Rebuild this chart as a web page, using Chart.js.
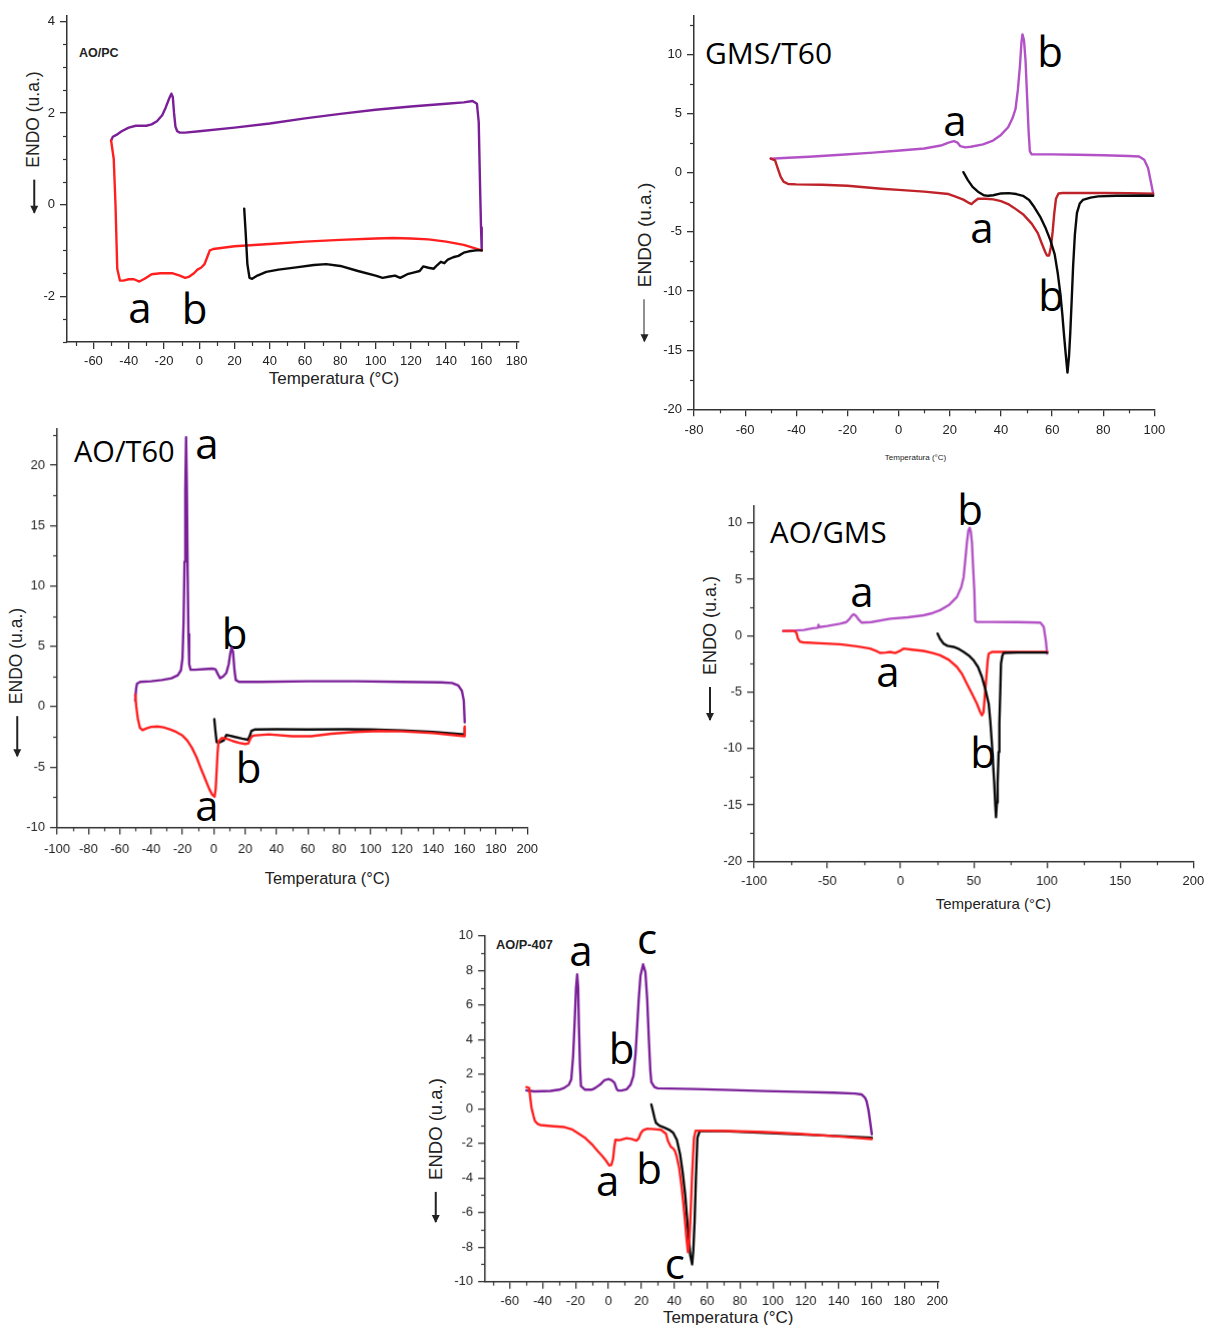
<!DOCTYPE html>
<html><head><meta charset="utf-8">
<script src="https://cdn.jsdelivr.net/npm/chart.js@4.4.1/dist/chart.umd.min.js"></script>
<style>
html,body{margin:0;padding:0;background:#fff;}
body{width:1205px;height:1325px;position:relative;overflow:hidden;font-family:'Liberation Sans',Arial,sans-serif;}
.cv{position:absolute;}
.t{position:absolute;white-space:nowrap;line-height:1;color:#111;}
.c{transform:translate(-50%,-50%);}
.l{transform:translate(0,-50%);}
.big{font-family:'Open Sans','Noto Sans',sans-serif;color:#000;}
.let{font-family:'Open Sans','Noto Sans',sans-serif;color:#000;font-size:42px;}
.bold{font-weight:bold;color:#222;}
.yt{position:absolute;display:flex;align-items:center;white-space:nowrap;line-height:1;color:#222;transform:translate(-50%,-50%) rotate(-90deg);}
.arr{display:inline-block;height:1.6px;background:#222;position:relative;margin-right:12px;}
.arr::before{content:'';position:absolute;left:-1px;top:-3.2px;border-right:8px solid #222;border-top:4px solid transparent;border-bottom:4px solid transparent;}
</style></head><body>

<!-- panel titles -->
<div class="t l bold" style="left:79px;top:52.7px;font-size:12.5px;">AO/PC</div>
<div class="t l big" style="left:705px;top:53px;font-size:30px;">GMS/T60</div>
<div class="t l big" style="left:74px;top:450px;font-size:29px;">AO/T60</div>
<div class="t l big" style="left:770px;top:532px;font-size:29.5px;">AO/GMS</div>
<div class="t l bold" style="left:496px;top:945px;font-size:12.8px;">AO/P-407</div>

<!-- x axis titles -->
<div class="t c" style="left:334px;top:378.3px;font-size:17px;color:#222;">Temperatura (°C)</div>
<div class="t c" style="left:915.5px;top:458.3px;font-size:8px;color:#222;">Temperatura (°C)</div>
<div class="t c" style="left:327.4px;top:878.3px;font-size:16.3px;color:#222;">Temperatura (°C)</div>
<div class="t c" style="left:993.3px;top:903.3px;font-size:15px;color:#222;">Temperatura (°C)</div>
<div class="t c" style="left:728.2px;top:1316.7px;font-size:17px;color:#222;">Temperatura (°C)</div>

<!-- y axis titles -->
<div class="yt" style="left:34.4px;top:141.7px;font-size:17.5px;"><span class="arr" style="width:33px"></span><span>ENDO (u.a.)</span></div>
<div class="yt" style="left:644.3px;top:261.7px;font-size:19px;"><span class="arr" style="width:42px"></span><span>ENDO (u.a.)</span></div>
<div class="yt" style="left:17.4px;top:682px;font-size:17.5px;"><span class="arr" style="width:40px"></span><span>ENDO (u.a.)</span></div>
<div class="yt" style="left:710px;top:648.3px;font-size:18px;"><span class="arr" style="width:33px"></span><span>ENDO (u.a.)</span></div>
<div class="yt" style="left:435.5px;top:1150px;font-size:18.5px;"><span class="arr" style="width:30px"></span><span>ENDO (u.a.)</span></div>

<!-- peak letters -->
<div class="t c let" style="left:140px;top:306.5px;">a</div>
<div class="t c let" style="left:194.5px;top:307.5px;">b</div>

<div class="t c let" style="left:955px;top:120px;">a</div>
<div class="t c let" style="left:1050px;top:51px;">b</div>
<div class="t c let" style="left:982px;top:226.7px;">a</div>
<div class="t c let" style="left:1051px;top:295px;">b</div>

<div class="t c let" style="left:207px;top:442.5px;">a</div>
<div class="t c let" style="left:234.5px;top:633px;">b</div>
<div class="t c let" style="left:248.5px;top:767px;">b</div>
<div class="t c let" style="left:207px;top:805px;">a</div>

<div class="t c let" style="left:970px;top:509px;">b</div>
<div class="t c let" style="left:862px;top:591px;">a</div>
<div class="t c let" style="left:888px;top:671px;">a</div>
<div class="t c let" style="left:983px;top:752px;">b</div>

<div class="t c let" style="left:581px;top:950px;">a</div>
<div class="t c let" style="left:647px;top:937.5px;">c</div>
<div class="t c let" style="left:621.5px;top:1048px;">b</div>
<div class="t c let" style="left:649px;top:1168px;">b</div>
<div class="t c let" style="left:607.7px;top:1180px;">a</div>
<div class="t c let" style="left:674.8px;top:1262.5px;">c</div>

<script>
// ---------------- AO/PC ----------------
const pcHeatX = [-50,-49,-47,-44,-40,-36,-30,-27,-24,-21,-19,-17,-15.8,-15,-14.3,-13.5,-12.5,-11,-8,0,20,40,60,80,100,120,140,150,155,157.5,158.5,159.2,159.8,160.2];
const pcHeatY = [1.40,1.48,1.52,1.60,1.68,1.72,1.72,1.75,1.82,1.95,2.12,2.32,2.42,2.35,2.00,1.70,1.60,1.57,1.57,1.60,1.68,1.77,1.88,1.98,2.07,2.14,2.20,2.23,2.26,2.20,1.80,0.50,-0.50,-1.00];
const pcCoolX = [160.2,150,140,130,120,110,100,80,60,40,20,8,6,4.5,3,1,-1,-3,-6,-8,-11,-15,-22,-27,-31,-34,-37,-40,-43,-45,-46.5,-47.5,-48.5,-50];
const pcCoolY = [-1.00,-0.88,-0.81,-0.76,-0.74,-0.73,-0.74,-0.77,-0.81,-0.86,-0.91,-0.97,-1.00,-1.15,-1.30,-1.38,-1.42,-1.50,-1.58,-1.60,-1.55,-1.50,-1.50,-1.52,-1.62,-1.68,-1.63,-1.63,-1.66,-1.66,-1.40,0.00,1.00,1.40];
const pcFirstX = [25.5,26.3,27.3,28.5,30,33,38,45,55,65,72,80,90,100,104,108,111,114,118,122,125,127,130,133,135,137,139,141,144,147,150,153,157,160.2];
const pcFirstY = [-0.09,-0.60,-1.30,-1.60,-1.62,-1.55,-1.47,-1.42,-1.37,-1.32,-1.30,-1.34,-1.45,-1.55,-1.60,-1.57,-1.55,-1.60,-1.52,-1.48,-1.45,-1.35,-1.38,-1.40,-1.32,-1.25,-1.28,-1.20,-1.15,-1.12,-1.05,-1.02,-1.00,-1.00];
const pcXTicks = [-60,-40,-20,0,20,40,60,80,100,120,140,160,180];
const pcYTicks = [-2,0,2,4];

// ---------------- GMS/T60 ----------------
const gtHeatX = [-50,-45,-35,-21,-10,0.5,10,16.5,19.5,21.6,23,24.1,26,28.2,33,36.9,40,42.8,44.5,45.7,46.6,47.4,48,48.4,49,49.6,50.2,50.8,51.3,52,60,70,80,90,94,96,97.5,98.8,99.6];
const gtHeatY = [1.18,1.25,1.35,1.54,1.70,1.88,2.05,2.30,2.55,2.67,2.55,2.25,2.15,2.20,2.40,2.72,3.20,3.85,4.60,5.40,7.00,9.00,11.00,11.70,11.20,9.50,6.50,3.50,1.80,1.55,1.55,1.52,1.48,1.42,1.38,1.10,0.40,-1.00,-1.90];
const gtCoolX = [99.6,90,80,70,64,62.5,61.5,60.8,60.2,59.5,58.8,58,57.3,56,54.4,52,48.6,45,42.8,40,37,34,31,29.5,28.5,27.5,25.3,22,19.5,10,0,-6.7,-20,-30,-40,-43.2,-45,-46.1,-47.3,-48.3,-50];
const gtCoolY = [-1.77,-1.72,-1.71,-1.71,-1.71,-1.75,-2.20,-3.50,-5.00,-6.30,-7.00,-7.00,-6.70,-6.00,-5.10,-4.30,-3.50,-2.95,-2.65,-2.40,-2.25,-2.20,-2.20,-2.45,-2.65,-2.55,-2.27,-2.00,-1.80,-1.60,-1.45,-1.35,-1.10,-1.02,-0.98,-0.95,-0.75,-0.35,0.40,1.05,1.20];
const gtFirstX = [25.3,27,28.9,31,33.3,35,37,40,43,46,48.6,51,53,55.3,57.3,59.3,61,62.2,63.2,64,64.6,65.3,66,66.6,67.1,67.7,68.2,68.9,69.7,70.8,72,75,78,85,95,99.6];
const gtFirstY = [0.05,-0.60,-1.20,-1.60,-1.90,-1.95,-1.90,-1.75,-1.72,-1.80,-1.95,-2.30,-2.90,-3.70,-4.60,-5.70,-6.90,-8.50,-10.20,-12.00,-13.60,-15.30,-16.90,-15.50,-13.50,-10.50,-7.90,-5.20,-3.40,-2.60,-2.30,-2.10,-2.00,-1.95,-1.92,-1.95];
const gtXTicks = [-80,-60,-40,-20,0,20,40,60,80,100];
const gtYTicks = [-20,-15,-10,-5,0,5,10];

// ---------------- AO/T60 ----------------
const atHeatX = [-50.2,-49.6,-49,-47,-40,-33,-27,-23,-21,-20,-19.3,-18.7,-18.2,-17.7,-17.2,-16.7,-16.2,-15.7,-14.8,-12,-6,-1,1,2.5,4,6,8,9.5,10.5,11.4,12.3,13.2,14,16,30,60,90,120,145,152,156,158.3,159.5,160.1];
const atHeatY = [0.5,1.5,1.9,2.05,2.1,2.2,2.35,2.6,3.0,4.0,7.0,12.0,18.0,22.3,18.0,11.0,6.0,3.5,3.05,3.05,3.1,3.15,3.1,2.7,2.35,2.5,2.8,3.5,4.4,4.9,4.5,3.0,2.2,2.05,2.05,2.1,2.1,2.05,2.0,1.95,1.75,1.3,0.5,-1.3];
const atCoolX = [-50.2,-49.5,-48.5,-47.2,-45.5,-43,-40,-36,-32,-28,-24,-20,-17,-14,-11,-8,-5.5,-3,-1,0.5,1.2,1.8,2.4,3,5,8,12,16,20,22,23.5,25,35,50,62,75,90,105,120,140,160.1,160.1];
const atCoolY = [1.0,0.0,-1.0,-1.75,-1.95,-1.8,-1.68,-1.65,-1.72,-1.88,-2.1,-2.4,-2.8,-3.4,-4.2,-5.2,-6.0,-6.8,-7.3,-7.45,-6.8,-5.3,-3.8,-2.9,-2.6,-2.65,-2.85,-3.0,-3.1,-3.05,-2.6,-2.4,-2.3,-2.45,-2.45,-2.25,-2.1,-2.02,-2.05,-2.2,-2.45,-1.65];
const atFirstX = [0.3,1,1.8,4,6.3,8,10,13,18,21.8,23,24,26,40,60,85,100,120,140,160.1,160.1];
const atFirstY = [-1.05,-2.0,-2.95,-2.95,-2.8,-2.35,-2.4,-2.5,-2.65,-2.75,-2.4,-2.0,-1.9,-1.88,-1.9,-1.88,-1.9,-1.98,-2.1,-2.3,-1.75];
const atXTicks = [-100,-80,-60,-40,-20,0,20,40,60,80,100,120,140,160,180,200];
const atYTicks = [-10,-5,0,5,10,15,20];

// ---------------- AO/GMS ----------------
const agHeatX = [-80.2,-72,-66,-60,-56.5,-56,-55.5,-50,-41.4,-37,-35,-33,-32,-30.5,-28.5,-26.5,-20,-7,5,15.7,22,27,33,38.5,41.5,43.1,44.3,45.3,46.3,47.2,48,48.8,49.6,50.4,51,52,61,80,95.5,97.8,99.3,100.1];
const agHeatY = [0.41,0.45,0.5,0.65,0.7,0.95,0.75,0.85,1.05,1.2,1.45,1.8,1.89,1.75,1.4,1.15,1.2,1.5,1.62,1.8,2.0,2.25,2.7,3.43,4.3,5.2,6.8,8.2,9.3,9.56,9.2,8.2,6.0,4.0,1.3,1.21,1.21,1.2,1.15,0.77,-0.5,-1.6];
const agCoolX = [-80.2,-72.2,-71,-70,-68.5,-66.5,-55,-41.4,-30,-20.8,-16,-14,-10,-7.1,-3.7,-1,2,8,15.7,22,27.1,33,38.5,42,45.3,49,52.2,54.5,55.6,56.7,57.6,58.6,59.5,60.2,62.4,80,100.1];
const agCoolY = [0.41,0.41,0.2,-0.3,-0.55,-0.6,-0.68,-0.77,-0.95,-1.15,-1.4,-1.54,-1.5,-1.45,-1.54,-1.4,-1.15,-1.25,-1.36,-1.55,-1.75,-2.15,-2.78,-3.4,-4.26,-5.2,-6.04,-6.8,-7.07,-6.78,-5.3,-3.67,-2.2,-1.6,-1.45,-1.45,-1.45];
const agFirstX = [25.3,27,29.4,32,36.2,40,43.1,46.5,49.9,53,55.6,58,60.2,61.3,62.4,63.3,64,64.7,65.2,65.8,66.3,67,67.5,68.1,68.6,69.5,70.4,80,100.1];
const agFirstY = [0.18,-0.3,-0.71,-0.9,-1.0,-1.2,-1.45,-1.75,-2.19,-2.8,-3.67,-4.8,-6.04,-7.6,-9.59,-11.6,-13.1,-15.0,-16.1,-14.8,-13.1,-10.3,-7.8,-5.0,-2.49,-1.8,-1.54,-1.5,-1.5];
const agXTicks = [-100,-50,0,50,100,150,200];
const agYTicks = [-20,-15,-10,-5,0,5,10];

// ---------------- AO/P-407 ----------------
const apHeatX = [-49.9,-45,-35.2,-30,-26.8,-24,-22.6,-21.5,-20.5,-19.7,-19,-18.4,-18,-17.3,-16.7,-14.2,-10,-7.9,-5,-2.6,0.1,2,3.7,5,5.8,8,11,13.5,15.2,16.5,17.5,18.4,19.5,21.1,22.5,23.6,24.6,25.5,26.1,28,29.9,53,75,95,115,137,150,153.9,156,157,158.2,159.1,160.2];
const apHeatY = [1.06,1.0,1.03,1.1,1.21,1.4,1.7,3.0,5.1,7.0,7.77,7.0,5.0,2.5,1.31,1.1,1.1,1.21,1.4,1.64,1.72,1.65,1.5,1.15,1.06,1.05,1.12,1.4,1.9,3.2,4.8,6.3,7.7,8.35,7.9,6.3,4.0,2.2,1.55,1.25,1.18,1.14,1.08,1.02,0.98,0.93,0.88,0.83,0.65,0.44,-0.1,-0.71,-1.48];
const apCoolX = [-49.9,-48.2,-47.5,-46.8,-45.5,-44.7,-43,-41.5,-35,-26.8,-22,-18.4,-14,-10,-6.5,-3.7,-1.5,0.5,1.8,2.8,3.6,4.3,6.8,11,14,17,18.5,19.5,21,23.6,28,32,35,36.2,38,39.4,40.5,41.5,43,44.6,45.7,46.7,47.6,48.4,49.2,49.9,50.9,52,53,60,74,95,116,140,160.2];
const apCoolY = [1.25,1.2,0.6,0.06,-0.45,-0.71,-0.88,-0.94,-1.0,-1.06,-1.2,-1.42,-1.7,-2.06,-2.45,-2.74,-3.0,-3.28,-3.25,-2.9,-2.2,-1.8,-1.82,-1.7,-1.75,-1.85,-1.7,-1.45,-1.25,-1.15,-1.18,-1.22,-1.45,-1.87,-2.2,-2.3,-2.45,-2.75,-3.4,-4.57,-5.6,-6.6,-7.6,-8.3,-7.6,-6.2,-3.8,-1.7,-1.27,-1.27,-1.29,-1.35,-1.45,-1.6,-1.75];
const apFirstX = [26.1,27,28.1,28.9,31,34.1,37,39.4,41.6,43.6,45.2,46.7,47.8,48.8,49.8,50.9,51.6,52.4,53.2,54.1,55.5,70,95,120,145,160.2];
const apFirstY = [0.25,-0.1,-0.55,-0.81,-0.98,-1.1,-1.22,-1.39,-1.8,-2.64,-3.7,-4.96,-6.3,-7.46,-8.5,-9.0,-8.2,-6.5,-4.0,-1.68,-1.29,-1.3,-1.39,-1.5,-1.6,-1.68];
const apXTicks = [-60,-40,-20,0,20,40,60,80,100,120,140,160,180,200];
const apYTicks = [-10,-8,-6,-4,-2,0,2,4,6,8,10];

// ---------------------------------------------
const PURPLE_DARK = '#7a1f98', PURPLE_LIGHT = '#b352c6', RED = '#ff1f1f', RED_DARK = '#bf2228', BLACK = '#0a0a0a';

function zip(xs, ys) { return xs.map((x, i) => ({x: x, y: ys[i]})); }

const minorTicks = {
  id: 'minorTicks',
  afterDraw(chart, args, o) {
    const ctx = chart.ctx, xs = chart.scales.x, ys = chart.scales.y, ca = chart.chartArea;
    const isMajor = (v, arr) => arr.some(m => Math.abs(m - v) < 1e-6);
    ctx.save();
    ctx.strokeStyle = '#333'; ctx.lineWidth = 1.2;
    for (let k = Math.ceil(xs.min / o.x - 1e-9); k * o.x <= xs.max + 1e-9; k++) {
      const v = k * o.x; if (isMajor(v, o.xMajor)) continue;
      const px = Math.round(xs.getPixelForValue(v)) + 0.5;
      ctx.beginPath(); ctx.moveTo(px, ca.bottom); ctx.lineTo(px, ca.bottom + o.len); ctx.stroke();
    }
    for (let k = Math.ceil(ys.min / o.y - 1e-9); k * o.y <= ys.max + 1e-9; k++) {
      const v = k * o.y; if (isMajor(v, o.yMajor)) continue;
      const py = Math.round(ys.getPixelForValue(v)) + 0.5;
      ctx.beginPath(); ctx.moveTo(ca.left, py); ctx.lineTo(ca.left - o.len, py); ctx.stroke();
    }
    ctx.restore();
  }
};

function makePanel(p) {
  const padL = 60, padT = 12, padR = 16, padB = 34;
  const div = document.createElement('div');
  div.className = 'cv';
  div.style.left = (p.L - padL) + 'px';
  div.style.top = (p.T - padT) + 'px';
  div.style.width = (p.R - p.L + padL + padR) + 'px';
  div.style.height = (p.B - p.T + padT + padB) + 'px';
  const cv = document.createElement('canvas');
  div.appendChild(cv);
  document.body.appendChild(div);
  const tickFont = {family: "'Liberation Sans', Arial, sans-serif", size: 13};
  new Chart(cv, {
    type: 'scatter',
    data: {
      datasets: p.series.map(s => ({
        data: zip(s.x, s.y), borderColor: s.color, backgroundColor: s.color,
        showLine: true, pointRadius: 0, pointHoverRadius: 0, borderWidth: 2.4,
        tension: 0, borderJoinStyle: 'round', borderCapStyle: 'round', fill: false
      }))
    },
    options: {
      responsive: true, maintainAspectRatio: false, animation: false, events: [],
      layout: {padding: {left: 0, top: padT, right: padR, bottom: 0}},
      plugins: {
        legend: {display: false}, tooltip: {enabled: false},
        minorTicks: {x: p.xMinor, y: p.yMinor, xMajor: p.xTicks, yMajor: p.yTicks, len: 4}
      },
      scales: {
        x: {
          type: 'linear', position: 'bottom', min: p.xMin, max: p.xMax,
          afterFit(s) { s.height = padB; },
          afterBuildTicks(s) { s.ticks = p.xTicks.map(v => ({value: v})); },
          ticks: {autoSkip: false, maxRotation: 0, padding: p.xPad, color: '#222', font: tickFont, callback: v => String(v)},
          grid: {drawOnChartArea: false, drawTicks: true, tickLength: 7, color: '#333', lineWidth: 1.3},
          border: {display: true, color: '#333', width: 1.5}
        },
        y: {
          type: 'linear', position: 'left', min: p.yMin, max: p.yMax,
          afterFit(s) { s.width = padL; },
          afterBuildTicks(s) { s.ticks = p.yTicks.map(v => ({value: v})); },
          ticks: {autoSkip: false, padding: 5, color: '#222', font: tickFont, callback: v => String(v)},
          grid: {drawOnChartArea: false, drawTicks: true, tickLength: 7, color: '#333', lineWidth: 1.3},
          border: {display: true, color: '#333', width: 1.5}
        }
      }
    },
    plugins: [minorTicks]
  });
}

makePanel({L: 67, T: 15, R: 518.4, B: 342, xMin: -75, xMax: 181, yMin: -3, yMax: 4.12,
  xTicks: pcXTicks, yTicks: pcYTicks, xMinor: 10, yMinor: 0.5, xPad: 4.9,
  series: [{x: pcFirstX, y: pcFirstY, color: BLACK}, {x: pcCoolX, y: pcCoolY, color: RED}, {x: pcHeatX, y: pcHeatY, color: PURPLE_DARK}]});

makePanel({L: 693.5, T: 15, R: 1154.7, B: 409.3, xMin: -80, xMax: 100, yMin: -20, yMax: 13.27,
  xTicks: gtXTicks, yTicks: gtYTicks, xMinor: 10, yMinor: 2.5, xPad: 5.9,
  series: [{x: gtFirstX, y: gtFirstY, color: BLACK}, {x: gtCoolX, y: gtCoolY, color: RED_DARK}, {x: gtHeatX, y: gtHeatY, color: PURPLE_LIGHT}]});

makePanel({L: 57.4, T: 428.3, R: 528.3, B: 826.7, xMin: -100, xMax: 200, yMin: -10, yMax: 23,
  xTicks: atXTicks, yTicks: atYTicks, xMinor: 10, yMinor: 2.5, xPad: 6.8,
  series: [{x: atCoolX, y: atCoolY, color: RED}, {x: atFirstX, y: atFirstY, color: BLACK}, {x: atHeatX, y: atHeatY, color: PURPLE_DARK}]});

makePanel({L: 754.3, T: 505.4, R: 1192.7, B: 860.7, xMin: -100, xMax: 200, yMin: -20, yMax: 11.5,
  xTicks: agXTicks, yTicks: agYTicks, xMinor: 25, yMinor: 2.5, xPad: 5.2,
  series: [{x: agFirstX, y: agFirstY, color: BLACK}, {x: agCoolX, y: agCoolY, color: RED}, {x: agHeatX, y: agHeatY, color: PURPLE_LIGHT}]});

makePanel({L: 485.4, T: 935, R: 938.3, B: 1280.7, xMin: -75, xMax: 201, yMin: -10, yMax: 10,
  xTicks: apXTicks, yTicks: apYTicks, xMinor: 10, yMinor: 1, xPad: 4.5,
  series: [{x: apCoolX, y: apCoolY, color: RED}, {x: apFirstX, y: apFirstY, color: BLACK}, {x: apHeatX, y: apHeatY, color: PURPLE_DARK}]});
</script>
</body></html>
